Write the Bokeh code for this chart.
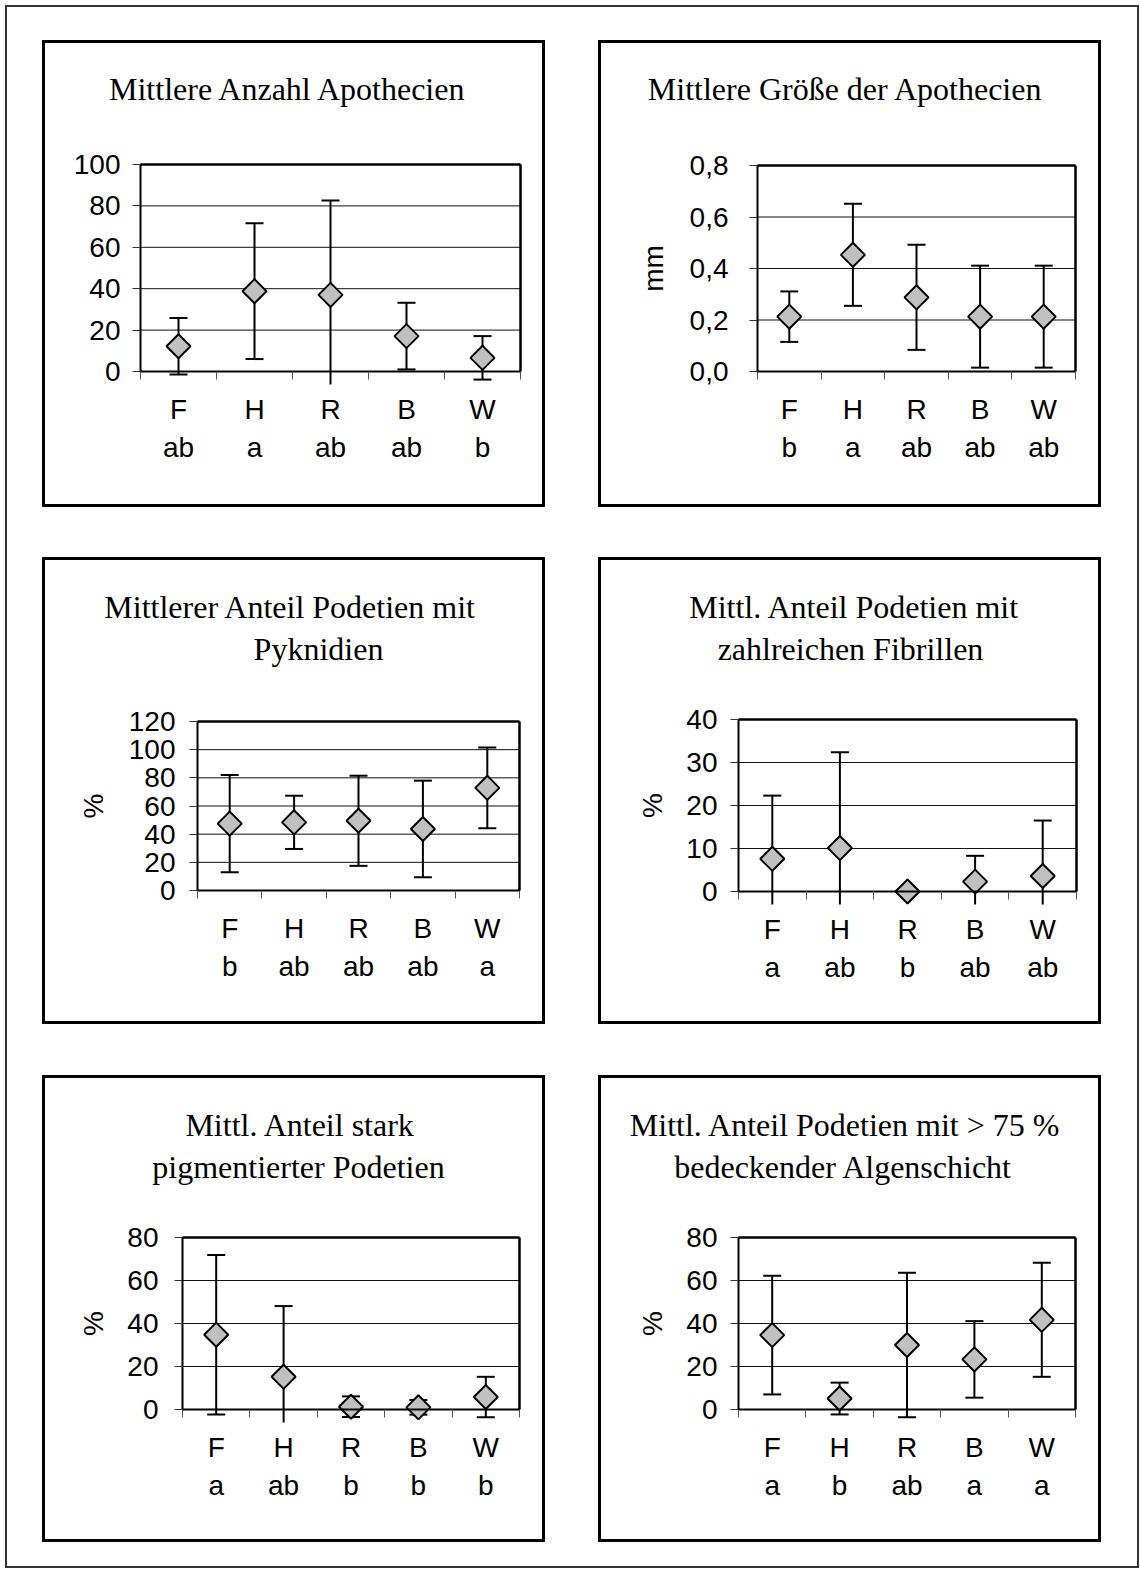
import numpy as np
from bokeh.plotting import figure
from bokeh.models import Range1d, LinearAxis, FixedTicker, Label, Spacer
from bokeh.layouts import column, row
from bokeh.embed import file_html
from bokeh.resources import INLINE

sites = ["F", "H", "R", "B", "W"]

# Panel 1
p1_title = ["Mittlere Anzahl Apothecien"]
p1_mean = [12.2, 38.8, 37.0, 17.1, 6.6]
p1_sd = [13.7, 32.8, 45.6, 16.1, 10.5]
p1_letters = ["ab", "a", "ab", "ab", "b"]
p1_yticks = [0, 20, 40, 60, 80, 100]
p1_yticklabels = ["0", "20", "40", "60", "80", "100"]
p1_ylabel = ""

# Panel 2
p2_title = ["Mittlere Größe der Apothecien"]
p2_mean = [0.213, 0.453, 0.288, 0.213, 0.213]
p2_sd = [0.098, 0.198, 0.204, 0.198, 0.198]
p2_letters = ["b", "a", "ab", "ab", "ab"]
p2_yticks = [0.0, 0.2, 0.4, 0.6, 0.8]
p2_yticklabels = ["0,0", "0,2", "0,4", "0,6", "0,8"]
p2_ylabel = "mm"

# Panel 3
p3_title = ["Mittlerer Anteil Podetien mit", "Pyknidien"]
p3_mean = [47.5, 48.4, 49.5, 43.7, 72.9]
p3_sd = [34.5, 18.9, 32.0, 34.3, 28.7]
p3_letters = ["b", "ab", "ab", "ab", "a"]
p3_yticks = [0, 20, 40, 60, 80, 100, 120]
p3_yticklabels = ["0", "20", "40", "60", "80", "100", "120"]
p3_ylabel = "%"

# Panel 4
p4_title = ["Mittl. Anteil Podetien mit", "zahlreichen Fibrillen"]
p4_mean = [7.6, 10.1, 0.0, 2.3, 3.6]
p4_sd = [14.7, 22.3, 0.0, 6.0, 12.9]
p4_letters = ["a", "ab", "b", "ab", "ab"]
p4_yticks = [0, 10, 20, 30, 40]
p4_yticklabels = ["0", "10", "20", "30", "40"]
p4_ylabel = "%"

# Panel 5
p5_title = ["Mittl. Anteil stark", "pigmentierter Podetien"]
p5_mean = [34.8, 15.2, 1.3, 1.0, 5.8]
p5_sd = [37.1, 32.9, 4.8, 3.4, 9.4]
p5_letters = ["a", "ab", "b", "b", "b"]
p5_yticks = [0, 20, 40, 60, 80]
p5_yticklabels = ["0", "20", "40", "60", "80"]
p5_ylabel = "%"

# Panel 6
p6_title = ["Mittl. Anteil Podetien mit > 75 %", "bedeckender Algenschicht"]
p6_mean = [34.6, 5.1, 30.0, 23.3, 41.7]
p6_sd = [27.6, 7.4, 33.6, 17.8, 26.5]
p6_letters = ["a", "b", "ab", "a", "a"]
p6_yticks = [0, 20, 40, 60, 80]
p6_yticklabels = ["0", "20", "40", "60", "80"]
p6_ylabel = "%"

W, H = 497, 461
SANS = "Liberation Sans"
SERIF = "Liberation Serif"
BELOW = 13  # px of plot area below the zero line (error bars are cut there)


def make_panel(geo, title, mean, sd, letters, yticks, yticklabels, ylabel):
    fx, fy = geo["origin"]
    fl, fr, ftop, fzero = geo["frame"]
    n = len(sites)
    ymax = yticks[-1]
    cw = (fr - fl) / n
    ppu = (fzero - ftop) / ymax
    xr = Range1d((fx - fl) / cw, (fx + W - fl) / cw)
    yr = Range1d(-(fy + H - fzero) / ppu, (fzero - fy) / ppu)

    p = figure(width=W, height=H, x_range=xr, y_range=yr,
               x_axis_location=None, y_axis_location=None,
               toolbar_location=None, output_backend="svg",
               min_border=0, background_fill_color="white", border_fill_color="white")
    p.grid.visible = False
    p.outline_line_color = None
    p.styles = {"outline": "3px solid black"}

    # horizontal grid lines across the category extent
    p.segment(x0=[0] * len(yticks), x1=[n] * len(yticks), y0=yticks, y1=yticks,
              line_color="#111111", line_width=1)

    # y axis at x = 0
    p.add_layout(LinearAxis(ticker=FixedTicker(ticks=yticks), bounds=(0, ymax), fixed_location=0,
                            axis_line_color="black", axis_line_width=2,
                            major_tick_out=8, major_tick_in=0, major_tick_line_color="#333333",
                            minor_tick_out=0, minor_tick_in=0,
                            major_label_standoff=geo["ystand"],
                            major_label_overrides={t: s for t, s in zip(yticks, yticklabels)},
                            major_label_text_font=SANS, major_label_text_font_size="28px",
                            major_label_text_color="black"), "left")

    # right and top border of the plot area
    p.add_layout(LinearAxis(ticker=FixedTicker(ticks=[]), bounds=(0, ymax), fixed_location=n,
                            axis_line_color="black", axis_line_width=2.5), "right")
    p.add_layout(LinearAxis(ticker=FixedTicker(ticks=[]), bounds=(0, n), fixed_location=ymax,
                            axis_line_color="black", axis_line_width=2.5), "above")

    # category axis at y = 0: boundary ticks (minor) and labels at centers
    xc = [i + 0.5 for i in range(n)]
    p.add_layout(LinearAxis(ticker=FixedTicker(ticks=xc, minor_ticks=list(range(n + 1))),
                            bounds=(0, n), fixed_location=0,
                            axis_line_color="black", axis_line_width=2,
                            major_tick_out=0, major_tick_in=0, major_tick_line_color=None,
                            minor_tick_out=8, minor_tick_in=0, minor_tick_line_color="#555555",
                            major_label_standoff=geo["xstand"],
                            major_label_overrides={c: f"{s}\n{l}" for c, s, l in zip(xc, sites, letters)},
                            major_label_text_font=SANS, major_label_text_font_size="28px",
                            major_label_text_line_height=1.23,
                            major_label_text_color="black"), "below")

    # error bars (cut at the bottom of the plot area, like the original)
    clip = -BELOW / ppu
    lo = [m - s for m, s in zip(mean, sd)]
    hi = [m + s for m, s in zip(mean, sd)]
    stem_lo = [max(v, clip) for v in lo]
    cap_x = [x for x, v in zip(xc, lo) if v >= clip]
    cap_lo = [v for v in lo if v >= clip]
    p.segment(x0=xc, y0=stem_lo, x1=xc, y1=hi, line_color="black", line_width=2)
    p.scatter(x=xc, y=hi, marker="dash", size=18, line_color="black", line_width=2)
    p.scatter(x=cap_x, y=cap_lo, marker="dash", size=18, line_color="black", line_width=2)
    p.scatter(x=xc, y=mean, marker="square", angle=np.pi / 4, size=17,
              fill_color="#c0c0c0", line_color="black", line_width=2)

    # titles (page coordinates -> figure-relative screen coords)
    for line, (tx, ty) in zip(title, geo["title"]):
        p.add_layout(Label(x=tx - fx, y=fy + H - ty, x_units="screen", y_units="screen",
                           text=line, text_align="center", text_baseline="middle",
                           text_font=SERIF, text_font_size="32px", text_color="black"))
    if ylabel:
        p.add_layout(Label(x=geo["ylab"] - fx, y=ymax / 2, x_units="screen", y_units="data",
                           text=ylabel, angle=np.pi / 2, text_align="center", text_baseline="middle",
                           text_font=SANS, text_font_size="28px", text_color="black"))
    return p


geos = [
    dict(origin=(45, 43), frame=(140, 520, 164, 371), ystand=12, xstand=14,
         title=[(288, 88)], ylab=None),
    dict(origin=(601, 43), frame=(757, 1075, 165, 371), ystand=21, xstand=14,
         title=[(845, 88)], ylab=653),
    dict(origin=(45, 560), frame=(197, 519, 721, 890), ystand=14, xstand=14,
         title=[(290, 606), (318, 648)], ylab=93),
    dict(origin=(601, 560), frame=(738, 1076, 719, 891), ystand=13, xstand=14,
         title=[(854, 606), (850, 648)], ylab=652),
    dict(origin=(45, 1078), frame=(182, 519, 1237, 1409), ystand=16, xstand=14,
         title=[(300, 1124), (298, 1166)], ylab=93),
    dict(origin=(601, 1078), frame=(738, 1075, 1237, 1409), ystand=13, xstand=14,
         title=[(845, 1124), (843, 1166)], ylab=652),
]

panels = [
    make_panel(geos[0], p1_title, p1_mean, p1_sd, p1_letters, p1_yticks, p1_yticklabels, p1_ylabel),
    make_panel(geos[1], p2_title, p2_mean, p2_sd, p2_letters, p2_yticks, p2_yticklabels, p2_ylabel),
    make_panel(geos[2], p3_title, p3_mean, p3_sd, p3_letters, p3_yticks, p3_yticklabels, p3_ylabel),
    make_panel(geos[3], p4_title, p4_mean, p4_sd, p4_letters, p4_yticks, p4_yticklabels, p4_ylabel),
    make_panel(geos[4], p5_title, p5_mean, p5_sd, p5_letters, p5_yticks, p5_yticklabels, p5_ylabel),
    make_panel(geos[5], p6_title, p6_mean, p6_sd, p6_letters, p6_yticks, p6_yticklabels, p6_ylabel),
]

BOX_W, BOX_H = 1134, 1563


def prow(a, b):
    return row(Spacer(width=40, height=H), a, Spacer(width=59, height=H), b,
               Spacer(width=41, height=H))


box = column(Spacer(width=BOX_W, height=38), prow(panels[0], panels[1]),
             Spacer(width=BOX_W, height=56), prow(panels[2], panels[3]),
             Spacer(width=BOX_W, height=57), prow(panels[4], panels[5]),
             Spacer(width=BOX_W, height=29))
box.styles = {"outline": "2px solid #333333", "outline-offset": "-2px"}

root = column(Spacer(width=1139, height=5), row(Spacer(width=5, height=BOX_H), box))

open("out.html", "w").write(file_html(root, INLINE))
